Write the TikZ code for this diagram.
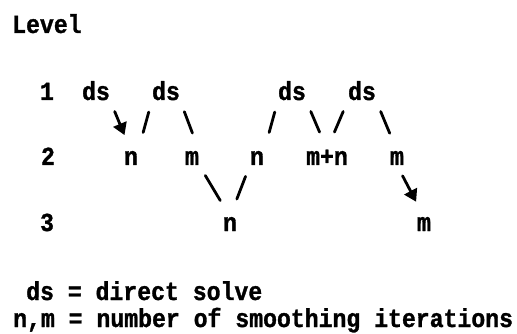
\documentclass[tikz,border=0pt]{standalone}
\usepackage{fontspec}
\newfontfamily\plotfont[FakeStretch=0.89,FakeBold=1.2]{Liberation Mono Bold}
\usetikzlibrary{arrows.meta}
\newcommand\tlfont{\plotfont\fontsize{26}{30}\selectfont}
\tikzset{
  lbl/.style={font=\tlfont, inner sep=0pt, anchor=base},
  conn/.style={line width=2.8pt, line cap=round, shorten <=12pt, shorten >=19pt},
  arr/.style={conn, shorten >=17pt, -{Triangle[length=12pt,width=14pt]}}
}
\begin{document}
\begin{tikzpicture}[x=1pt,y=-1pt]
\useasboundingbox (0,0) rectangle (517,334);
% header
\node[lbl, anchor=base west] (level) at (12,33) {Level};
% level labels
\node[lbl] (l1) at (47,100) {1};
\node[lbl] (l2) at (48,165) {2};
\node[lbl] (l3) at (47,231) {3};
% row 1
\node[lbl] (dsa) at (96,100) {ds};
\node[lbl] (dsb) at (166,100) {ds};
\node[lbl] (dsc) at (292,100) {ds};
\node[lbl] (dsd) at (362,100) {ds};
% row 2
\node[lbl] (na) at (131,165) {n};
\node[lbl] (ma) at (192,165) {m};
\node[lbl] (nb) at (257,165) {n};
\node[lbl] (mn) at (327,165) {m+n};
\node[lbl] (mc) at (397,165) {m};
% row 3
\node[lbl] (nc) at (230,231) {n};
\node[lbl] (md) at (424,231) {m};
% connectors
\draw[arr]  (dsa.south east) -- (na.north);
\draw[conn] (dsb.south west) -- (na.north east);
\draw[conn] (dsb.south east) -- (ma.north east);
\draw[conn] (dsc.south west) -- (nb.north east);
\draw[conn] (dsc.south east) -- (mn.north);
\draw[conn] (dsd.south west) -- (mn.north);
\draw[conn] (dsd.south east) -- (mc.north);
\draw[conn] (ma.south east) -- (nc.north);
\draw[conn] (nb.south west) -- (nc.north);
\draw[arr]  (mc.south) -- (md.north);
% legend
\node[lbl, anchor=base west] (leg1) at (26,300) {ds = direct solve};
\node[lbl, anchor=base west] (leg2) at (13,327) {n,m = number of smoothing iterations};
\end{tikzpicture}
\end{document}
